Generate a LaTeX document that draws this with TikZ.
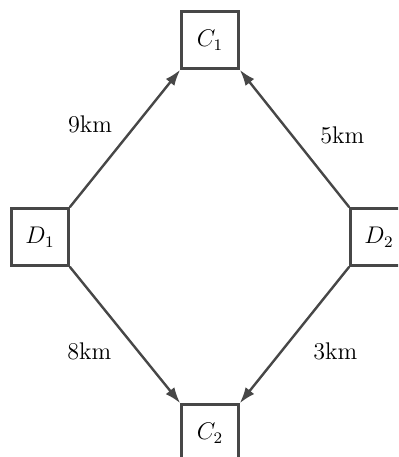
\documentclass[tikz,border=0pt]{standalone}
\usepackage{tikz}
\usetikzlibrary{arrows.meta}
\begin{document}
\begin{tikzpicture}[x=0.0175cm,y=-0.0175cm]
		% Styles (MODIFIABLES)
		\tikzstyle{fleche}=[->,>={Latex[length=8pt,width=5.5pt]},line width=1.2pt,draw=black!72,fill=black!72]
		\tikzstyle{noeud}=[draw=black!72,line width=1.2pt,minimum size=1cm,inner sep=0pt,font=\large]
		\tikzstyle{commentaire}=[black,font=\large]
		% Cadre
		\clip (0,0) rectangle (398,457);
		\useasboundingbox (0,0) rectangle (398,457);
		% Noeuds
		\node[noeud] (C1) at (210,40) {$C_1$};
		\node[noeud] (D1) at (40,237) {$D_1$};
		\node[noeud] (D2) at (379,237) {$D_2$};
		\node[noeud] (C2) at (210,433) {$C_2$};
		% Arcs (MODIFIABLES : Styles)
		\draw[fleche] (D1.north east)--(C1.south west) node[pos=0.6, left=8pt, commentaire]{9km};
		\draw[fleche] (D2.north west)--(C1.south east) node[pos=0.52, right=10pt, commentaire]{5km};
		\draw[fleche] (D1.south east)--(C2.north west) node[pos=0.62, left=9.5pt, commentaire]{8km};
		\draw[fleche] (D2.south west)--(C2.north east) node[pos=0.62, right=12pt, commentaire]{3km};
	\end{tikzpicture}
\end{document}
